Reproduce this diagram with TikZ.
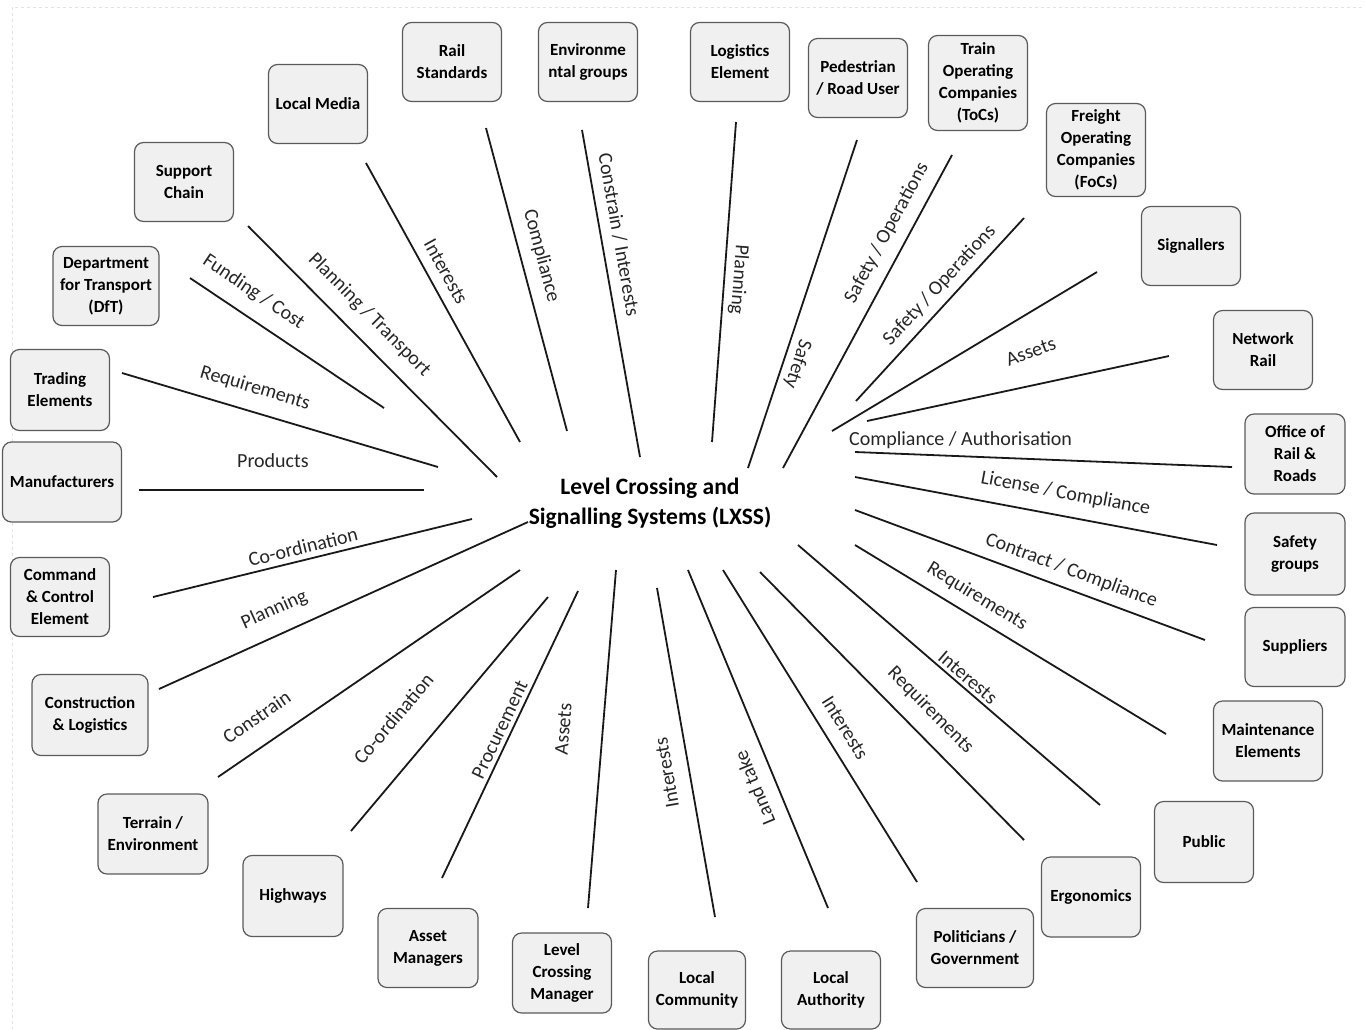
\documentclass[tikz,border=0pt]{standalone}
\usepackage{fontspec}
\setmainfont{Carlito}
\usepackage{tikz}

\definecolor{boxfill}{HTML}{F0F0F0}
\definecolor{boxline}{HTML}{5A5A5A}
\definecolor{framegray}{HTML}{E2E2E2}

\begin{document}
\begin{tikzpicture}[x=1pt,y=-1pt,
        box/.style={draw=boxline, fill=boxfill, rounded corners=9pt, line width=1.2pt, align=center,
            font=\bfseries\fontsize{17}{22}\selectfont, minimum width=99pt, minimum height=79pt, inner sep=2pt},
        link/.style={line width=1.8pt, draw=black!90},
        lbltext/.style={font=\fontsize{20}{24}\selectfont, inner sep=2pt, text=black!85},
        lbl/.style={lbltext, sloped, allow upside down}]
        \useasboundingbox (0,0) rectangle (1365,1029);
        \draw[framegray, dashed, line width=0.6pt] (1362,7) -- (12,7) -- (12,1029);

        \node[font=\bfseries\fontsize{23.5}{30}\selectfont, align=center] (lxss) at (650,503) {Level Crossing and\\Signalling Systems (LXSS)};

        \node[box] (lmedia) at (318,104) {Local Media};
        \node[box] (rail) at (452,62) {Rail\\Standards};
        \node[box] (envgrp) at (588,62) {Environme\\ntal groups};
        \node[box] (logel) at (740,62) {Logistics\\Element};
        \node[box] (pedest) at (858,78) {Pedestrian\\/ Road User};
        \node[box, minimum height=95pt] (tocs) at (978,83) {Train\\Operating\\Companies\\(ToCs)};
        \node[box, minimum height=93pt] (focs) at (1096,150) {Freight\\Operating\\Companies\\(FoCs)};
        \node[box] (signal) at (1191,246) {Signallers};
        \node[box] (netrail) at (1263,350) {Network\\Rail};
        \node[box, minimum width=100pt, minimum height=80pt] (orr) at (1295,454) {Office of\\Rail \&\\Roads};
        \node[box, minimum width=100pt, minimum height=82pt] (safegrp) at (1295,554) {Safety\\groups};
        \node[box, minimum width=100pt] (suppl) at (1295,647) {Suppliers};
        \node[box, minimum width=109pt, minimum height=80pt] (maint) at (1268,741) {Maintenance\\Elements};
        \node[box, minimum height=81pt] (public) at (1204,842) {Public};
        \node[box, minimum height=80pt] (ergo) at (1091,897) {Ergonomics};
        \node[box, minimum width=117pt] (politic) at (975,948) {Politicians /\\Government};
        \node[box, minimum height=78pt] (locauth) at (831,990) {Local\\Authority};
        \node[box, minimum width=97pt, minimum height=78pt] (loccom) at (697,990) {Local\\Community};
        \node[box, minimum height=80pt] (lcman) at (562,973) {Level\\Crossing\\Manager};
        \node[box, minimum width=100pt] (assetman) at (428,948) {Asset\\Managers};
        \node[box, minimum width=100pt, minimum height=81pt] (highway) at (293,896) {Highways};
        \node[box, minimum width=110pt, minimum height=80pt] (terrain) at (153,834) {Terrain /\\Environment};
        \node[box, minimum width=116pt, minimum height=81pt] (constr) at (90,715) {Construction\\\& Logistics};
        \node[box] (cmdctl) at (60,597) {Command\\\& Control\\Element};
        \node[box, minimum width=119pt, minimum height=80pt] (manuf) at (62,482) {Manufacturers};
        \node[box, minimum height=81pt] (trading) at (60,390) {Trading\\Elements};
        \node[box, minimum width=106pt] (dft) at (106,286) {Department\\for Transport\\(DfT)};
        \node[box] (supch) at (184,182) {Support\\Chain};

        \coordinate (lmedia-o) at (366,163);   \coordinate (lmedia-i) at (520,442);
        \coordinate (supch-o) at (248,226);    \coordinate (supch-i) at (497,477);
        \coordinate (dft-o) at (190,278);      \coordinate (dft-i) at (384,408);
        \coordinate (rail-o) at (486,128);     \coordinate (rail-i) at (567,431);
        \coordinate (envgrp-o) at (582,130);   \coordinate (envgrp-i) at (640,457);
        \coordinate (logel-o) at (736,122);    \coordinate (logel-i) at (712,442);
        \coordinate (pedest-o) at (857,140);   \coordinate (pedest-i) at (748,468);
        \coordinate (tocs-o) at (952,155);     \coordinate (tocs-i) at (783,468);
        \coordinate (focs-o) at (1024,218);    \coordinate (focs-i) at (856,401);
        \coordinate (signal-o) at (1097,272);  \coordinate (signal-i) at (832,431);
        \coordinate (netrail-o) at (1169,356); \coordinate (netrail-i) at (867,421);
        \coordinate (orr-o) at (1232,467);     \coordinate (orr-i) at (855,452);
        \coordinate (safegrp-o) at (1217,545); \coordinate (safegrp-i) at (855,477);
        \coordinate (suppl-o) at (1205,640);   \coordinate (suppl-i) at (855,510);
        \coordinate (maint-o) at (1166,734);   \coordinate (maint-i) at (855,545);
        \coordinate (public-o) at (1100,805);  \coordinate (public-i) at (798,545);
        \coordinate (ergo-o) at (1024,840);    \coordinate (ergo-i) at (760,572);
        \coordinate (politic-o) at (917,882);  \coordinate (politic-i) at (723,570);
        \coordinate (locauth-o) at (828,908);  \coordinate (locauth-i) at (688,570);
        \coordinate (loccom-o) at (715,917);   \coordinate (loccom-i) at (657,588);
        \coordinate (lcman-o) at (588,908);    \coordinate (lcman-i) at (616,570);
        \coordinate (assetman-o) at (442,878); \coordinate (assetman-i) at (578,591);
        \coordinate (highway-o) at (351,831);  \coordinate (highway-i) at (548,597);
        \coordinate (terrain-o) at (218,777);  \coordinate (terrain-i) at (520,570);
        \coordinate (constr-o) at (159,689);   \coordinate (constr-i) at (528,522);
        \coordinate (cmdctl-o) at (153,597);   \coordinate (cmdctl-i) at (472,519);
        \coordinate (manuf-o) at (139,490);    \coordinate (manuf-i) at (424,490);
        \coordinate (trading-o) at (122,373);  \coordinate (trading-i) at (438,467);

        \draw[link] (lmedia-o) -- node[lbl, pos=0.42, above=8pt] {Interests} (lmedia-i);
        \draw[link] (supch-o) -- node[lbl, pos=0.42, above=12pt] {Planning / Transport} (supch-i);
        \draw[link] (dft-o) -- node[lbl, pos=0.26, above=12pt] {Funding / Cost} (dft-i);
        \draw[link] (rail-o) -- node[lbl, pos=0.44, above=9pt] {Compliance} (rail-i);
        \draw[link] (envgrp-o) -- node[lbl, pos=0.33, above=8pt] {Constrain / Interests} (envgrp-i);
        \draw[link] (logel-o) -- node[lbl, pos=0.49, above=3pt] {Planning} (logel-i);
        \draw[link] (pedest-o) -- node[lbl, pos=0.67, above=3pt] {Safety} (pedest-i);
        \draw[link] (tocs-i) -- node[lbl, pos=0.72, above=9pt] {Safety / Operations} (tocs-o);
        \draw[link] (focs-i) -- node[lbl, pos=0.57, above=5pt] {Safety / Operations} (focs-o);
        \draw[link] (signal-i) -- (signal-o);
        \draw[link] (netrail-i) -- node[lbl, pos=0.57, above=24pt, rotate=8] {Assets} (netrail-o);
        \draw[link] (orr-i) -- node[lbltext, pos=0.28, above=5pt] {Compliance / Authorisation} (orr-o);
        \draw[link] (safegrp-i) -- node[lbl, pos=0.57, above=11pt] {License / Compliance} (safegrp-o);
        \draw[link] (suppl-i) -- node[lbl, pos=0.60, above=7pt] {Contract / Compliance} (suppl-o);
        \draw[link] (maint-i) -- node[lbl, pos=0.36, above=8pt] {Requirements} (maint-o);
        \draw[link] (public-i) -- node[lbl, pos=0.54, above=1pt] {Interests} (public-o);
        \draw[link] (ergo-i) -- node[lbl, pos=0.58, above=13pt] {Requirements} (ergo-o);
        \draw[link] (politic-i) -- node[lbl, pos=0.54, above=11pt] {Interests} (politic-o);
        \draw[link] (locauth-o) -- node[lbl, pos=0.38, above=12pt] {Land take} (locauth-i);
        \draw[link] (loccom-o) -- node[lbl, pos=0.45, above=13pt] {Interests} (loccom-i);
        \draw[link] (lcman-o) -- node[lbl, pos=0.52, above=30pt] {Assets} (lcman-i);
        \draw[link] (assetman-o) -- node[lbl, pos=0.50, above=2pt] {Procurement} (assetman-i);
        \draw[link] (highway-o) -- node[lbl, pos=0.37, above=30pt] {Co-ordination} (highway-i);
        \draw[link] (terrain-o) -- node[lbl, pos=0.18, above=18pt] {Constrain} (terrain-i);
        \draw[link] (constr-o) -- node[lbl, pos=0.34, above=13pt] {Planning} (constr-i);
        \draw[link] (cmdctl-o) -- node[lbl, pos=0.48, above=3pt] {Co-ordination} (cmdctl-i);
        \draw[link] (manuf-o) -- node[lbl, pos=0.47, above=19pt] {Products} (manuf-i);
        \draw[link] (trading-o) -- node[lbl, pos=0.40, above=12pt] {Requirements} (trading-i);
    \end{tikzpicture}
\end{document}
